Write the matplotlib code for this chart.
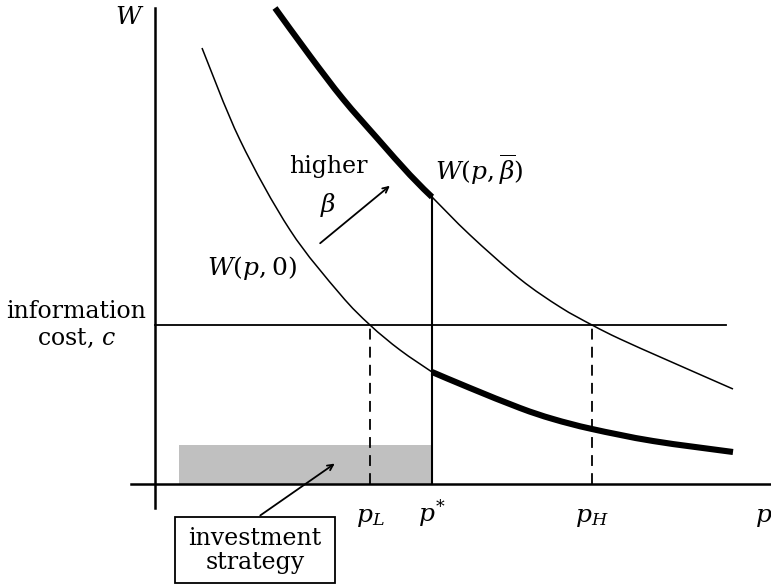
import numpy as np
import matplotlib.pyplot as plt
from matplotlib.patches import Rectangle, PathPatch
from matplotlib.path import Path

plt.rcParams['font.family'] = 'DejaVu Serif'
plt.rcParams['mathtext.fontset'] = 'dejavuserif'

# curve points (p, W)
hi_thick_p = [1.20, 1.55, 1.88, 2.22, 2.55, 2.77]
hi_thick_w = [4.76, 4.28, 3.85, 3.46, 3.09, 2.87]
hi_thin_p = [2.77, 3.15, 3.65, 4.05, 4.37, 4.65, 5.12, 5.78]
hi_thin_w = [2.87, 2.49, 2.05, 1.77, 1.59, 1.45, 1.24, 0.95]

lo_thin_p = [0.47, 0.85, 1.35, 1.85, 2.15, 2.45, 2.77]
lo_thin_w = [4.36, 3.44, 2.54, 1.90, 1.59, 1.34, 1.12]
lo_thick_p = [2.77, 3.15, 3.65, 3.98, 4.37, 4.98, 5.78]
lo_thick_w = [1.12, 0.96, 0.76, 0.65, 0.55, 0.43, 0.32]

# key levels
c = 1.59
p_L = 2.15
p_star = 2.77
p_H = 4.37
w_star = 2.87
invest_start = 0.24
invest_h = 0.39


def smooth_line(ax, xs, ys, lw):
    # draw a smooth curve through the points (Catmull-Rom as Bezier segments)
    pts = np.column_stack([xs, ys])
    verts = [pts[0]]
    codes = [Path.MOVETO]
    n = len(pts)
    for i in range(n - 1):
        p0 = pts[i - 1] if i > 0 else pts[i]
        p1, p2 = pts[i], pts[i + 1]
        p3 = pts[i + 2] if i + 2 < n else pts[i + 1]
        verts += [p1 + (p2 - p0) / 6, p2 - (p3 - p1) / 6, p2]
        codes += [Path.CURVE4] * 3
    ax.add_patch(PathPatch(Path(verts, codes), facecolor='none',
                           edgecolor='black', lw=lw, capstyle='butt'))


fig = plt.figure(figsize=(7.71, 5.85), dpi=100)
ax = fig.add_axes([0, 0, 1, 1])
ax.set_xlim(-1.55, 6.16)
ax.set_ylim(-1.01, 4.84)
ax.axis('off')

# axes
ax.plot([0, 0], [-0.24, 4.76], color='black', lw=1.8)
ax.plot([-0.24, 6.16], [0, 0], color='black', lw=1.8)

# investment region
ax.add_patch(Rectangle((invest_start, 0), p_star - invest_start, invest_h,
                       facecolor='#c0c0c0', edgecolor='none'))

# curves
smooth_line(ax, hi_thick_p, hi_thick_w, 4.4)
smooth_line(ax, hi_thin_p, hi_thin_w, 1.1)
smooth_line(ax, lo_thin_p, lo_thin_w, 1.1)
smooth_line(ax, lo_thick_p, lo_thick_w, 4.4)

# info cost line and markers
ax.plot([0, 5.71], [c, c], color='black', lw=1.3)
ax.plot([p_star, p_star], [0, w_star], color='black', lw=1.5)
ax.plot([p_L, p_L], [0, c], color='black', lw=1.3, ls=(0, (6, 4)))
ax.plot([p_H, p_H], [0, c], color='black', lw=1.3, ls=(0, (6, 4)))

fs = 17
ms = 18
ax.text(-0.25, 4.67, '$W$', fontsize=ms, ha='center', va='center')
ax.text(6.0, -0.38, '$p$', fontsize=ms, ha='left', va='baseline')
ax.text(p_L, -0.38, '$p_L$', fontsize=ms, ha='center', va='baseline')
ax.text(p_star, -0.38, '$p^{*}$', fontsize=ms, ha='center', va='baseline')
ax.text(p_H, -0.38, '$p_H$', fontsize=ms, ha='center', va='baseline')

ax.text(-0.79, 1.59, 'information\ncost, $c$', fontsize=fs, ha='center',
        va='center', linespacing=1.25)
ax.text(1.73, 3.17, 'higher', fontsize=fs, ha='center', va='center')
ax.text(1.73, 2.79, r'$\beta$', fontsize=ms, ha='center', va='center')
ax.annotate('', xy=(2.37, 3.00), xytext=(1.63, 2.39),
            arrowprops=dict(arrowstyle='->', color='black', lw=1.3))
ax.text(0.97, 2.16, '$W(p,0)$', fontsize=ms, ha='center', va='center')
ax.text(2.80, 3.14, r'$W(p,\overline{\beta})$', fontsize=ms, ha='left',
        va='center')

# investment strategy box
ax.add_patch(Rectangle((0.20, -0.99), 1.60, 0.66, facecolor='white',
                       edgecolor='black', lw=1.3))
ax.text(1.00, -0.665, 'investment\nstrategy', fontsize=fs, ha='center',
        va='center', linespacing=1.05)
ax.annotate('', xy=(1.82, 0.22), xytext=(1.03, -0.33),
            arrowprops=dict(arrowstyle='->', color='black', lw=1.3))

fig.savefig('out.png', dpi=100)
